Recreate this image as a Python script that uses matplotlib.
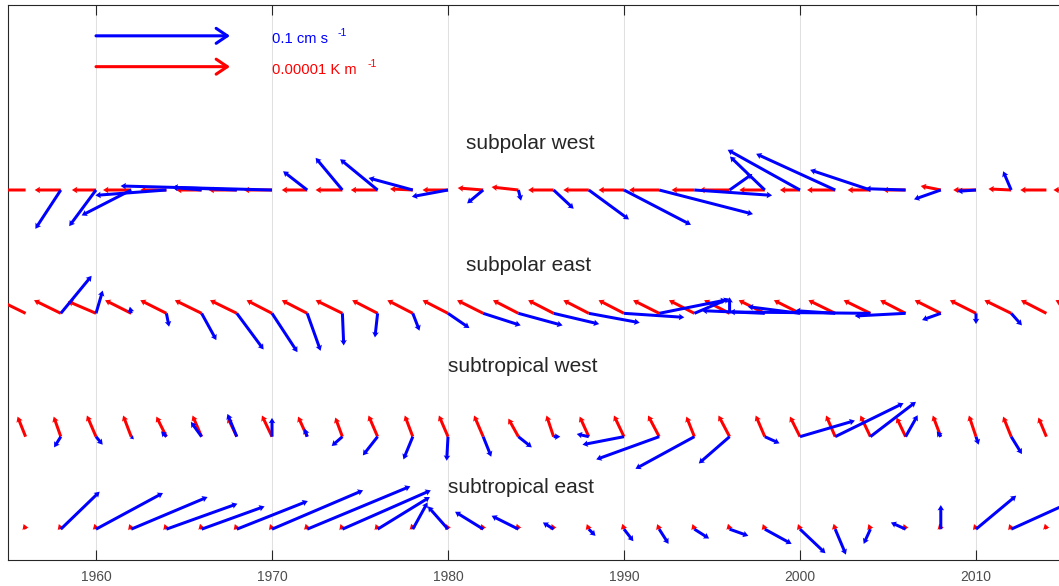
import numpy as np
import matplotlib
matplotlib.use('Agg')
import matplotlib.pyplot as plt

plt.rcParams['font.family'] = ['Liberation Sans', 'DejaVu Sans']

nan = np.nan
years = [1956, 1958, 1960, 1962, 1964, 1966, 1968, 1970, 1972, 1974, 1976,
         1978, 1980, 1982, 1984, 1986, 1988, 1990, 1992, 1994, 1996, 1998,
         2000, 2002, 2004, 2006, 2008, 2010, 2012, 2014, 2016]
regions = ['subpolar west', 'subpolar east', 'subtropical west', 'subtropical east']
decade_ticks = [1960, 1970, 1980, 1990, 2000, 2010]

# velocity (cm/s)
sw_vel_u = [nan, -0.019, -0.020, -0.037, -0.053, -0.022, -0.048, -0.113, -0.018, -0.020, -0.028,
            -0.033, -0.027, -0.012, 0.002, 0.015, 0.030, 0.050, 0.070, 0.058, 0.017, -0.026,
            -0.054, -0.059, -0.045, -0.030, -0.020, -0.014, -0.006, nan, nan]
sw_vel_v = [nan, -0.029, -0.027, -0.019, -0.004, 0.002, 0.002, 0.003, 0.014, 0.024, 0.023,
            0.009, -0.005, -0.010, -0.008, -0.014, -0.022, -0.026, -0.018, -0.004, 0.012, 0.025,
            0.030, 0.027, 0.015, 0.001, -0.007, -0.001, 0.014, nan, nan]
se_vel_u = [nan, 0.023, 0.005, -0.001, 0.002, 0.011, 0.020, 0.019, 0.010, 0.001, -0.002,
            0.005, 0.016, 0.028, 0.033, 0.034, 0.038, 0.045, 0.050, 0.026, 0.000, -0.047,
            -0.039, -0.030, -0.105, -0.038, -0.014, 0.000, 0.008, nan, nan]
se_vel_v = [nan, 0.028, 0.017, 0.005, -0.010, -0.020, -0.027, -0.029, -0.028, -0.024, -0.018,
            -0.013, -0.011, -0.009, -0.009, -0.008, -0.007, -0.003, 0.010, 0.011, 0.012, 0.002,
            0.005, 0.002, 0.001, -0.002, -0.005, -0.008, -0.009, nan, nan]
stw_vel_u = [nan, -0.005, 0.005, 0.002, -0.004, -0.008, -0.007, 0.000, -0.002, -0.008, -0.011,
             -0.007, -0.001, 0.006, 0.010, 0.005, -0.009, -0.031, -0.047, -0.044, -0.023, 0.011,
             0.041, 0.051, 0.034, 0.009, -0.003, 0.002, 0.008, nan, nan]
stw_vel_v = [nan, -0.008, -0.006, -0.002, 0.004, 0.011, 0.017, 0.014, 0.006, -0.007, -0.014,
             -0.017, -0.018, -0.015, -0.008, 0.000, 0.002, -0.006, -0.017, -0.024, -0.020, -0.005,
             0.012, 0.025, 0.026, 0.016, 0.004, -0.006, -0.013, nan, nan]
ste_vel_u = [nan, 0.029, 0.050, 0.057, 0.053, 0.047, 0.053, 0.068, 0.077, 0.066, 0.039,
             0.011, -0.015, -0.021, -0.020, -0.008, 0.005, 0.007, 0.007, 0.011, 0.014, 0.020,
             0.019, 0.008, -0.005, -0.011, 0.000, 0.030, 0.053, nan, nan]
ste_vel_v = [nan, 0.028, 0.027, 0.024, 0.019, 0.017, 0.021, 0.029, 0.032, 0.029, 0.024,
             0.020, 0.017, 0.013, 0.010, 0.005, -0.005, -0.009, -0.011, -0.007, -0.005, -0.011,
             -0.018, -0.019, -0.011, 0.005, 0.018, 0.025, 0.024, nan, nan]

# temperature gradient (1e-6 K/m)
sw_grad_u = [-2.25, -1.95, -1.8, -2.1, -1.95, -1.9, -2.1, -2.1, -1.9, -2.0, -2.0,
             -1.7, -1.9, -1.9, -2.0, -1.9, -1.9, -1.9, -2.25, -1.7, -2.25, -1.9,
             -1.5, -2.1, -1.7, -1.7, -1.5, -1.7, -1.7, -1.95, -2.1]
sw_grad_v = [0.0, 0.0, 0.0, 0.0, 0.0, 0.0, 0.0, 0.0, 0.0, 0.0, 0.0,
             0.08, 0.0, 0.15, 0.22, 0.0, 0.0, 0.0, 0.0, 0.0, 0.0, 0.0,
             0.0, 0.0, 0.0, 0.0, 0.3, 0.0, 0.08, 0.0, 0.0]
se_grad_u = [-2.0, -2.0, -2.1, -1.95, -1.95, -2.0, -2.0, -1.9, -1.9, -2.0, -1.9,
             -1.9, -1.9, -1.95, -1.9, -1.9, -1.9, -1.9, -1.95, -1.9, -1.9, -1.95,
             -1.95, -2.0, -2.0, -1.9, -1.95, -1.95, -2.0, -1.9, -1.95]
se_grad_v = [0.98, 0.98, 0.9, 0.98, 0.98, 0.98, 0.98, 0.98, 0.98, 0.98, 0.98,
             0.98, 0.98, 0.98, 0.98, 0.98, 0.98, 0.98, 0.98, 0.98, 0.98, 0.98,
             0.98, 0.98, 0.98, 0.98, 0.98, 0.98, 0.98, 0.98, 0.98]
stw_grad_u = [-0.6, -0.53, -0.68, -0.6, -0.75, -0.68, -0.68, -0.75, -0.68, -0.53, -0.68,
              -0.6, -0.68, -0.68, -0.75, -0.53, -0.68, -0.75, -0.83, -0.6, -0.83, -0.68,
              -0.75, -0.68, -0.75, -0.68, -0.6, -0.53, -0.6, -0.6, -0.6]
stw_grad_v = [1.5, 1.5, 1.58, 1.58, 1.5, 1.58, 1.43, 1.58, 1.5, 1.43, 1.58,
              1.58, 1.58, 1.58, 1.35, 1.58, 1.5, 1.58, 1.58, 1.5, 1.58, 1.58,
              1.5, 1.58, 1.58, 1.43, 1.58, 1.58, 1.5, 1.43, 1.5]
ste_grad_u = [-0.15, -0.15, -0.12, -0.15, -0.15, -0.12, -0.15, -0.15, -0.12, -0.15, -0.15,
              -0.12, -0.15, -0.15, -0.12, -0.15, -0.15, -0.12, -0.15, -0.15, -0.12, -0.15,
              -0.15, -0.12, -0.15, -0.15, -0.12, -0.15, -0.15, -0.12, -0.15]
ste_grad_v = [0.38, 0.38, 0.4, 0.38, 0.38, 0.4, 0.38, 0.38, 0.4, 0.38, 0.38,
              0.4, 0.38, 0.38, 0.4, 0.38, 0.38, 0.4, 0.38, 0.38, 0.4, 0.38,
              0.38, 0.4, 0.38, 0.38, 0.4, 0.38, 0.38, 0.4, 0.38]

vel_ref = 0.1       # cm/s
grad_ref = 10.0     # 1e-6 K/m  (= 0.00001 K/m)

W, H = 1059, 586
fig = plt.figure(figsize=(W / 100, H / 100), dpi=100)
ax = fig.add_axes([8 / W, 26 / H, 1056 / W, 555 / H])
ax.set_xlim(1955, 2015)
ax.set_ylim(0, 9)

ref_px = 134.0
vel_scale = vel_ref / ref_px
grad_scale = grad_ref / ref_px
row_y = [6.0, 4.0, 2.0, 0.5]
label_xy = [(1984.66, 6.76), (1984.6, 4.77), (1984.23, 3.14), (1984.15, 1.17)]

qkw = dict(angles='uv', scale_units='dots', units='dots', width=3.0,
           headwidth=2.2, headlength=1.8, headaxislength=1.6, minlength=0,
           pivot='tail')

yrs = np.array(years, dtype=float)
vel = [(sw_vel_u, sw_vel_v), (se_vel_u, se_vel_v), (stw_vel_u, stw_vel_v), (ste_vel_u, ste_vel_v)]
grad = [(sw_grad_u, sw_grad_v), (se_grad_u, se_grad_v), (stw_grad_u, stw_grad_v), (ste_grad_u, ste_grad_v)]

for name, y0, (gu, gv), (vu, vv), (lx, ly) in zip(regions, row_y, grad, vel, label_xy):
    Y = np.full(len(yrs), y0)
    gu = np.array(gu, float); gv = np.array(gv, float)
    vu = np.array(vu, float); vv = np.array(vv, float)
    ax.quiver(yrs, Y, gu, gv, color=(1, 0, 0), scale=grad_scale, zorder=3, **qkw)
    m = ~np.isnan(vu)
    ax.quiver(yrs[m], Y[m], vu[m], vv[m], color=(0, 0, 1), scale=vel_scale, zorder=4, **qkw)
    ax.text(lx, ly, name, ha='center', va='center', fontsize=15, color=(0.15, 0.15, 0.15))

# reference arrows
px_per_year = ax.bbox.width / (2015 - 1955)
L = (vel_ref / vel_scale) / px_per_year
for yy, col in [(8.5, (0, 0, 1)), (8.0, (1, 0, 0))]:
    ax.annotate('', xy=(1960 + L, yy), xytext=(1960, yy),
                arrowprops=dict(arrowstyle='->,head_length=0.8,head_width=0.54',
                                color=col, lw=2.2, shrinkA=0, shrinkB=0,
                                mutation_scale=10))
ax.text(1970.0, 8.38, '0.1 cm s', color=(0, 0, 1), fontsize=10.6, va='baseline', ha='left')
ax.text(1973.75, 8.5, '-1', color=(0, 0, 1), fontsize=7.5, va='baseline', ha='left')
ax.text(1970.0, 7.88, '0.00001 K m', color=(1, 0, 0), fontsize=10.6, va='baseline', ha='left')
ax.text(1975.45, 8.0, '-1', color=(1, 0, 0), fontsize=7.5, va='baseline', ha='left')

ax.set_xticks(decade_ticks)
ax.set_yticks([])
ax.tick_params(axis='x', direction='in', length=7.2, width=0.8, top=True,
               labelsize=10, labelcolor=(0.3, 0.3, 0.3), color=(0.15, 0.15, 0.15), pad=7.0)
ax.grid(axis='x', color=(0.88, 0.88, 0.88), lw=0.75)
ax.set_axisbelow(True)
for s in ['left', 'top', 'bottom']:
    ax.spines[s].set_color((0.15, 0.15, 0.15))
    ax.spines[s].set_linewidth(0.8)
ax.spines['right'].set_visible(False)

fig.savefig('out.png', dpi=100)
